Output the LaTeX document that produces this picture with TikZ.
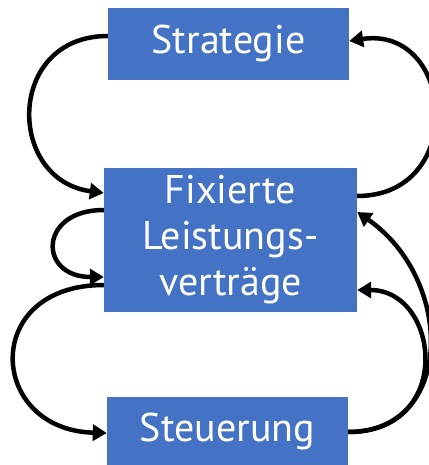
\documentclass[tikz,border=0pt]{standalone}
\usepackage{fontspec}
\setmainfont{PT Sans}
\usetikzlibrary{arrows.meta}
\definecolor{boxblue}{HTML}{4472C4}
\begin{document}
\begin{tikzpicture}[x=1pt,y=1pt,
  box/.style={fill=boxblue,draw=none,text=white,font=\fontsize{40}{46}\selectfont,align=center,inner sep=0pt},
  conn/.style={line width=4.5pt,-{Triangle[length=14pt,width=16pt]}}]
\useasboundingbox (0,0) rectangle (428,-465);
\node[box,minimum width=241pt,minimum height=72pt] (S) at (228.5,-44) {Strategie};
\node[box,minimum width=253pt,minimum height=144pt] (F) at (230.5,-240) {Fixierte\\Leistungs-\\verträge};
\node[box,minimum width=241pt,minimum height=68pt] (T) at (227.5,-431) {Steuerung};
\draw[conn] ([yshift=8pt]S.west) .. controls (6,-36) and (6,-180) .. ([yshift=47pt]F.west);
\draw[conn] ([yshift=44pt]F.east) .. controls (468,-196) and (455,-25) .. ([yshift=3pt]S.east);
\draw[conn] ([yshift=30pt]F.west) .. controls (38,-210) and (38,-277) .. ([yshift=-37pt]F.west);
\draw[conn] ([yshift=-45pt]F.west) .. controls (-20,-285) and (-12,-430) .. ([yshift=-2pt]T.west);
\draw[conn] ([yshift=-1pt]T.east) .. controls (455,-432) and (455,-280) .. ([yshift=28pt]F.east);
\draw[conn] ([yshift=-1pt]T.east) .. controls (455,-432) and (440,-290) .. ([yshift=-50pt]F.east);
\end{tikzpicture}
\end{document}
